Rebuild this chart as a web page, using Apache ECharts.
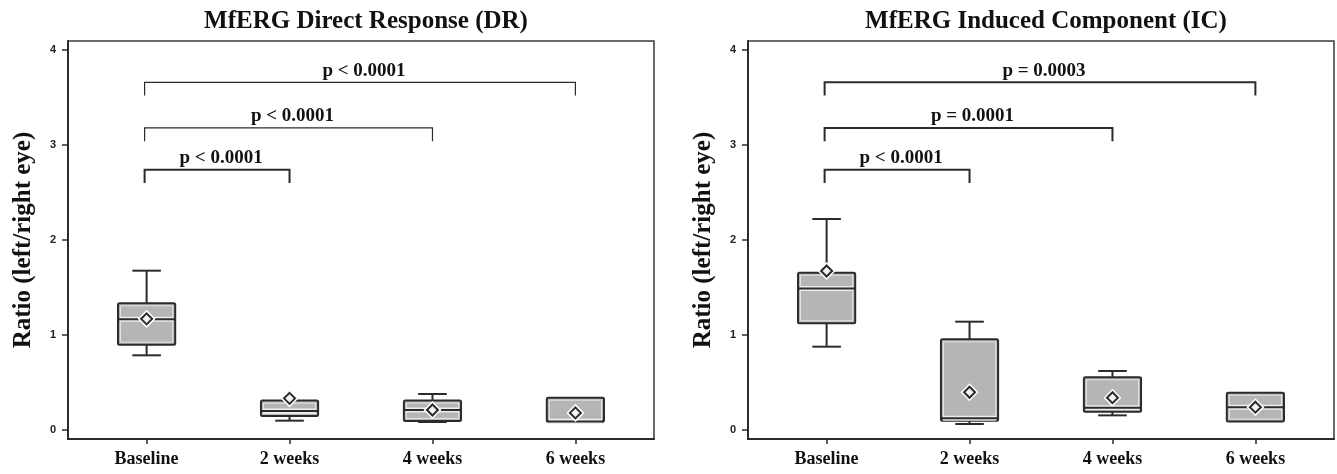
<!DOCTYPE html>
<html><head><meta charset="utf-8">
<script src="https://cdn.jsdelivr.net/npm/echarts@6/dist/echarts.min.js"></script>
<style>html,body{margin:0;padding:0;background:#fff}#c{width:1337px;height:474px}</style>
</head><body><div id="c"></div>
<script>
// ---- data ----
const categories = ['Baseline', '2 weeks', '4 weeks', '6 weeks'];
const categoryPos = [1, 2, 3, 4];
const yTicks = [0, 1, 2, 3, 4];
const titles = ['MfERG Direct Response (DR)', 'MfERG Induced Component (IC)'];
const yName = 'Ratio (left/right eye)';

// MfERG Direct Response (DR)
const drMin    = [0.786, 0.098, 0.084, 0.088];
const drQ1     = [0.898, 0.147, 0.095, 0.088];
const drMedian = [1.165, 0.200, 0.210, 0.088];
const drQ3     = [1.333, 0.309, 0.309, 0.340];
const drMax    = [1.677, 0.309, 0.379, 0.340];
const drMean   = [1.170, 0.333, 0.210, 0.180];

// MfERG Induced Component (IC)
const icMin    = [0.877, 0.063, 0.154, 0.088];
const icQ1     = [1.123, 0.098, 0.193, 0.088];
const icMedian = [1.490, 0.123, 0.235, 0.239];
const icQ3     = [1.656, 0.954, 0.554, 0.393];
const icMax    = [2.221, 1.140, 0.621, 0.393];
const icMean   = [1.674, 0.397, 0.340, 0.240];

// significance brackets: from category A to category B, bar height, end height
const bracketFrom = [1, 1, 1];
const bracketTo   = [4, 3, 2];
const bracketTop  = [3.66, 3.18, 2.74];
const bracketEnd  = [3.52, 3.04, 2.60];
const drPLabels = ['p < 0.0001', 'p < 0.0001', 'p < 0.0001'];
const icPLabels = ['p = 0.0003', 'p = 0.0001', 'p < 0.0001'];

// ---- styles ----
const DARK = '#2b2b2b';
const BOX_FILL = '#b5b5b5';
const BOX_W = 0.40;   // in category units
const CAP_W = 0.20;
const SERIF = '"Liberation Serif", "Times New Roman", serif';
const drBracketWidths = [1.2, 1.2, 2];
const icBracketWidths = [2, 2, 2];

function boxData(mn, q1, md, q3, mx, mean) {
  return categoryPos.map((x, i) => [x, mn[i], q1[i], md[i], q3[i], mx[i], mean[i]]);
}
function bracketData() {
  return bracketFrom.map((a, i) => [a, bracketTo[i], bracketTop[i], bracketEnd[i]]);
}

function seg(x1, y1, x2, y2, color, w) {
  return { type: 'line', shape: { x1, y1, x2, y2 }, style: { stroke: color, lineWidth: w } };
}

function renderBox(params, api) {
  const x = api.value(0);
  const pMin = api.coord([x, api.value(1)]);
  const pQ1 = api.coord([x, api.value(2)]);
  const pMed = api.coord([x, api.value(3)]);
  const pQ3 = api.coord([x, api.value(4)]);
  const pMax = api.coord([x, api.value(5)]);
  const pMean = api.coord([x, api.value(6)]);
  const bw = api.size([BOX_W, 0])[0];
  const cw = api.size([CAP_W, 0])[0];
  const cx = pQ1[0];
  const ch = [];
  if (pMax[1] < pQ3[1] - 0.5) {
    ch.push(seg(cx, pQ3[1], cx, pMax[1], DARK, 2));
    ch.push(seg(cx - cw / 2, pMax[1], cx + cw / 2, pMax[1], DARK, 2));
  }
  if (pMin[1] > pQ1[1] + 0.5) {
    ch.push(seg(cx, pQ1[1], cx, pMin[1], DARK, 2));
    ch.push(seg(cx - cw / 2, pMin[1], cx + cw / 2, pMin[1], DARK, 2));
  }
  const top = pQ3[1], h = pQ1[1] - pQ3[1];
  ch.push({ type: 'rect', shape: { x: cx - bw / 2, y: top, width: bw, height: h, r: 1.5 },
    style: { fill: BOX_FILL, stroke: DARK, lineWidth: 2 } });
  if (h > 6) {
    ch.push({ type: 'rect', shape: { x: cx - bw / 2 + 2.5, y: top + 2.5, width: bw - 5, height: h - 5 },
      style: { fill: 'none', stroke: '#e4e4e4', lineWidth: 1 } });
  }
  ch.push(seg(cx - bw / 2 + 2, pMed[1], cx + bw / 2 - 2, pMed[1], '#ececec', 5));
  ch.push(seg(cx - bw / 2, pMed[1], cx + bw / 2, pMed[1], DARK, 2));
  const r = 5.5, mx = pMean[0], my = pMean[1];
  const pts = [[mx, my - r], [mx + r, my], [mx, my + r], [mx - r, my]];
  ch.push({ type: 'polygon', shape: { points: pts }, style: { fill: 'none', stroke: '#ffffff', lineWidth: 5 } });
  ch.push({ type: 'polygon', shape: { points: pts }, style: { fill: '#f4f4f4', stroke: DARK, lineWidth: 2 } });
  return { type: 'group', children: ch };
}

function makeBracketRenderer(labels, widths) {
  return function (params, api) {
    const i = params.dataIndex;
    const a = api.coord([api.value(0), api.value(2)]);
    const b = api.coord([api.value(1), api.value(2)]);
    const ae = api.coord([api.value(0), api.value(3)]);
    const be = api.coord([api.value(1), api.value(3)]);
    const ax = a[0] - 2;
    return {
      type: 'group',
      children: [
        { type: 'polyline', shape: { points: [[ax, ae[1]], [ax, a[1]], [b[0], b[1]], [b[0], be[1]]] },
          style: { fill: 'none', stroke: DARK, lineWidth: widths[i] } },
        { type: 'text', style: { text: labels[i], x: (ax + b[0]) / 2 + 4, y: a[1] - 2,
          align: 'center', verticalAlign: 'bottom', font: 'bold 19px ' + SERIF, fill: '#111' } }
      ]
    };
  };
}

const gridLefts = [68, 748];
function xAxisCfg(gi) {
  return {
    gridIndex: gi, type: 'value', min: 0.45, max: 4.55,
    axisLine: { show: true, onZero: false, lineStyle: { color: DARK, width: 2 } },
    axisTick: { show: true, customValues: categoryPos, length: 5, lineStyle: { color: DARK, width: 1.5 } },
    axisLabel: { show: true, customValues: categoryPos, margin: 11,
      formatter: v => categories[Math.round(v) - 1] || '',
      fontFamily: SERIF, fontWeight: 'bold', fontSize: 18, color: '#111' },
    splitLine: { show: false }
  };
}
function yAxisCfg(gi) {
  return {
    gridIndex: gi, type: 'value', min: -0.095, max: 4.095,
    name: yName, nameLocation: 'middle', nameGap: 32,
    nameTextStyle: { fontFamily: SERIF, fontWeight: 'bold', fontSize: 25, color: '#111' },
    axisLine: { show: true, onZero: false, lineStyle: { color: DARK, width: 2 } },
    axisTick: { show: true, customValues: yTicks, length: 6, lineStyle: { color: DARK, width: 1.5 } },
    axisLabel: { show: true, customValues: yTicks, margin: 12, formatter: v => String(Math.round(v)),
      fontFamily: '"Liberation Sans", Arial, sans-serif', fontWeight: 'bold', fontSize: 11, color: '#222' },
    splitLine: { show: false }
  };
}

const chart = echarts.init(document.getElementById('c'), null, { renderer: 'canvas' });
chart.setOption({
  animation: false,
  backgroundColor: '#ffffff',
  title: titles.map((t, i) => ({
    text: t, left: gridLefts[i] + 293, top: 4, textAlign: 'center',
    textStyle: { fontFamily: SERIF, fontWeight: 'bold', fontSize: 25, color: '#111' }
  })),
  grid: gridLefts.map(l => ({ left: l, top: 41, width: 586, height: 398, show: true,
    borderColor: '#3a3a3a', borderWidth: 1.5, backgroundColor: '#ffffff' })),
  xAxis: [xAxisCfg(0), xAxisCfg(1)],
  yAxis: [yAxisCfg(0), yAxisCfg(1)],
  series: [
    { type: 'custom', xAxisIndex: 0, yAxisIndex: 0, renderItem: renderBox,
      data: boxData(drMin, drQ1, drMedian, drQ3, drMax, drMean), encode: { x: 0, y: [1, 2, 3, 4, 5, 6] } },
    { type: 'custom', xAxisIndex: 1, yAxisIndex: 1, renderItem: renderBox,
      data: boxData(icMin, icQ1, icMedian, icQ3, icMax, icMean), encode: { x: 0, y: [1, 2, 3, 4, 5, 6] } },
    { type: 'custom', xAxisIndex: 0, yAxisIndex: 0, renderItem: makeBracketRenderer(drPLabels, drBracketWidths),
      data: bracketData(), encode: { x: [0, 1], y: [2, 3] } },
    { type: 'custom', xAxisIndex: 1, yAxisIndex: 1, renderItem: makeBracketRenderer(icPLabels, icBracketWidths),
      data: bracketData(), encode: { x: [0, 1], y: [2, 3] } }
  ]
});
</script>
</body></html>
